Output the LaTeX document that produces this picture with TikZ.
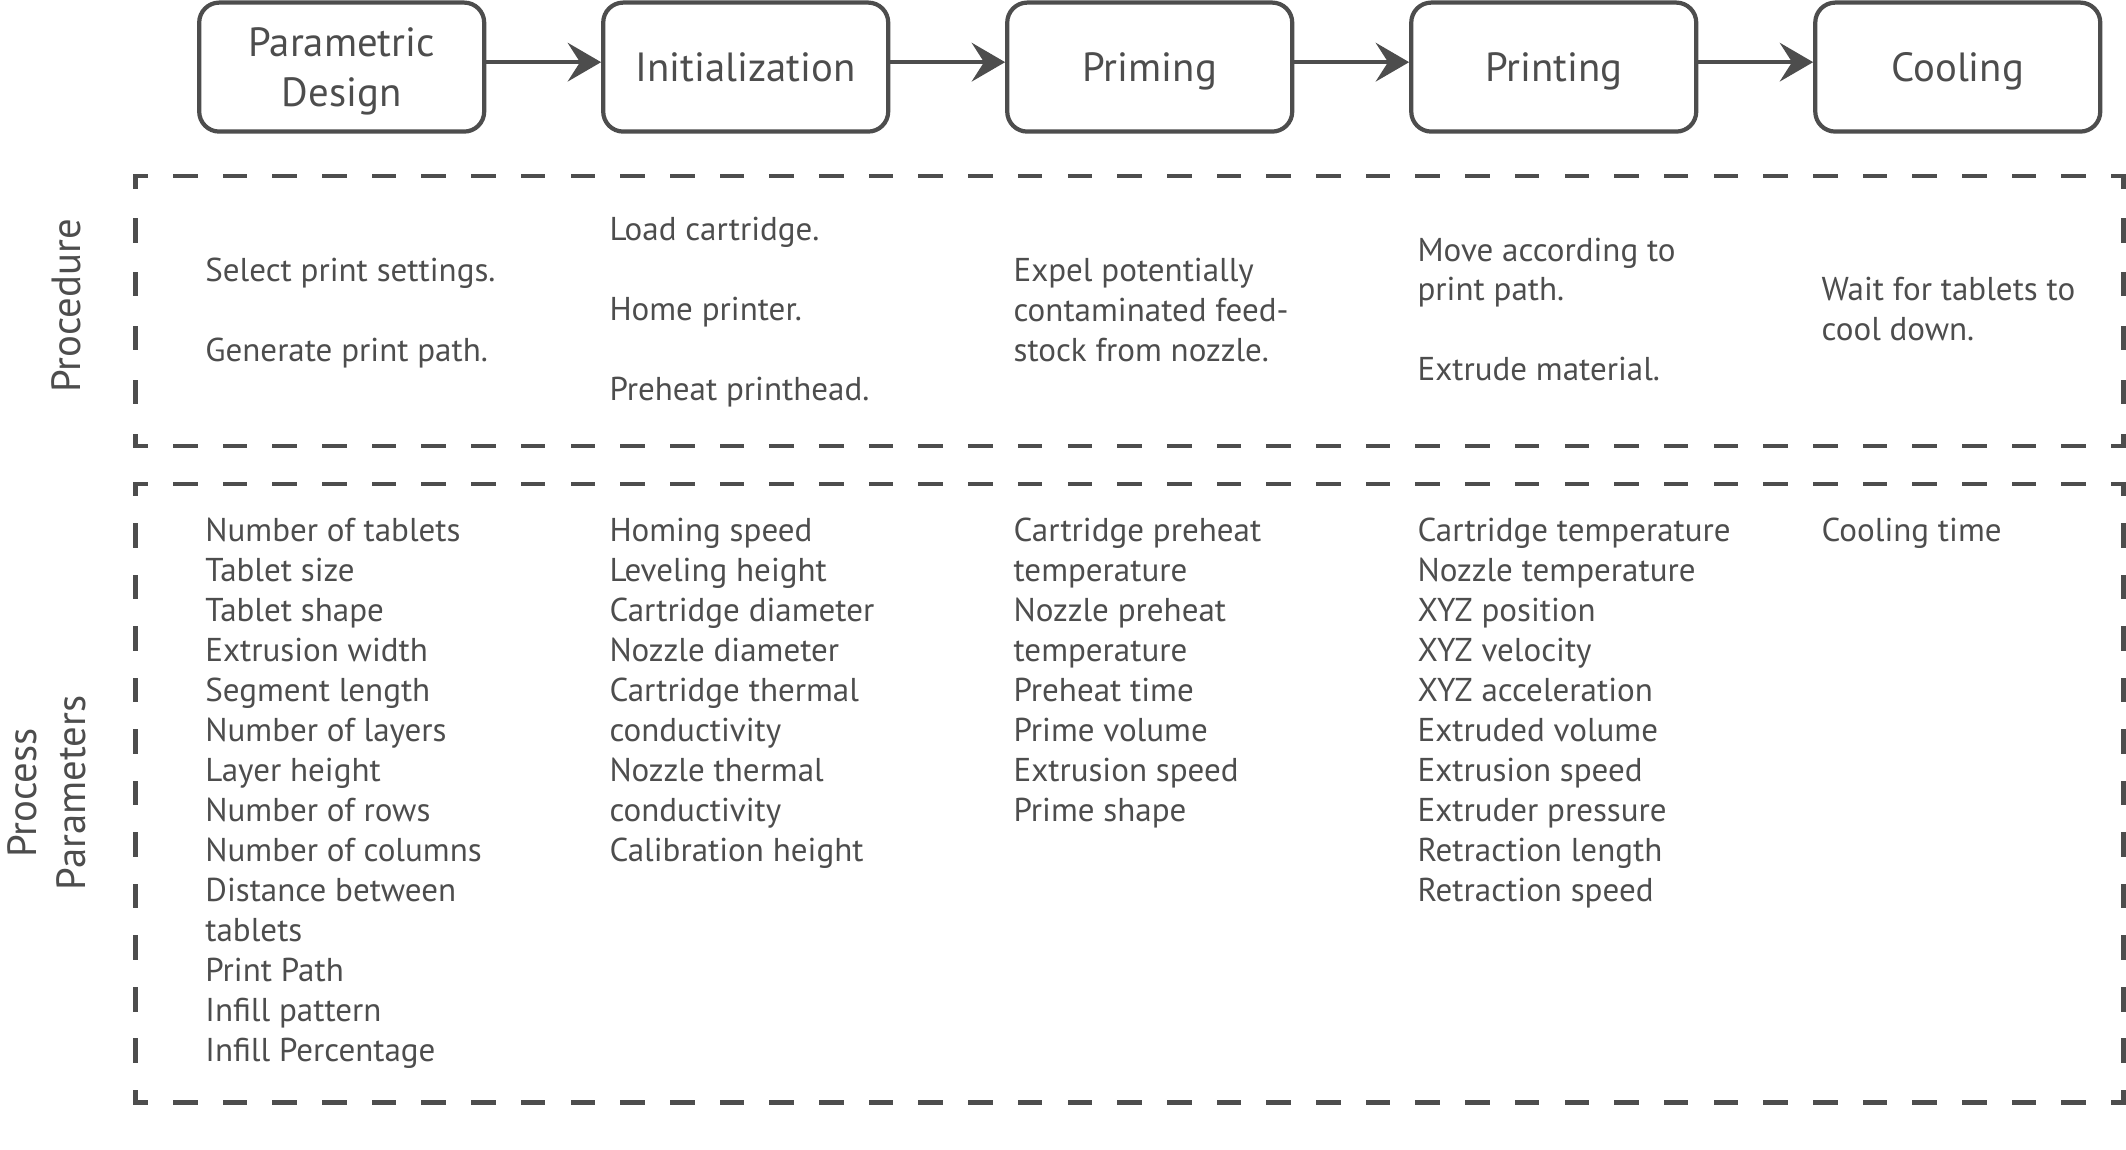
\documentclass[tikz,border=0pt]{standalone}
\usepackage{fontspec}
\setmainfont{PT Sans}
\usetikzlibrary{arrows.meta, positioning}
\definecolor{ink}{RGB}{77,77,77}

\begin{document}
\begin{tikzpicture}[
        node distance=1.148cm,
        font=\fontsize{9.4}{11.38}\selectfont,
        color=ink, text=ink,
        stage/.style={rectangle, draw=ink, line width=1.2pt, rounded corners=5.7pt, minimum width=2.85cm, minimum height=1.29cm, align=center, inner sep=0pt, text depth=0pt, font=\fontsize{11.6}{14.2}\selectfont},
        items/.style={align=left, anchor=base west, inner sep=0pt},
        side/.style={rotate=90, align=center, inner sep=0pt, font=\fontsize{11.6}{14}\selectfont},
        flow/.style={line width=1.2pt, -{Stealth[length=9.5pt, width=11pt, inset=3.5pt]}},
        hline/.style={line width=1.2pt, line cap=rect, dash pattern=on 5.8pt off 8.34pt, dash phase=2.9pt},
        vlineA/.style={line width=1.2pt, line cap=rect, dash pattern=on 5.8pt off 9.55pt, dash phase=2.9pt},
        vlineB/.style={line width=1.2pt, line cap=rect, dash pattern=on 5.8pt off 8.86pt, dash phase=2.9pt}
    ]
        \useasboundingbox (0,0) rectangle (21.26,-11.5);

        % process stages
        \node (design) [stage] at (3.417,-0.671) {Parametric\\Design};
        \node (init) [stage, right=of design] {Initialization};
        \node (prime) [stage, right=of init] {Priming};
        \node (print) [stage, right=of prime] {Printing};
        \node (cool) [stage, right=of print] {Cooling};

        \draw [flow] ([yshift=1.4pt]design.east) -- ([yshift=1.4pt]init.west);
        \draw [flow] ([yshift=1.4pt]init.east) -- ([yshift=1.4pt]prime.west);
        \draw [flow] ([yshift=1.4pt]prime.east) -- ([yshift=1.4pt]print.west);
        \draw [flow] ([yshift=1.4pt]print.east) -- ([yshift=1.4pt]cool.west);

        % dashed frames
        \coordinate (procTL) at (1.356,-1.763);
        \coordinate (procTR) at (21.234,-1.763);
        \coordinate (procBL) at (1.356,-4.46);
        \coordinate (procBR) at (21.234,-4.46);
        \coordinate (parTL) at (1.356,-4.84);
        \coordinate (parTR) at (21.234,-4.84);
        \coordinate (parBL) at (1.356,-11.024);
        \coordinate (parBR) at (21.234,-11.024);

        \draw [hline] (procTL) -- (procTR);
        \draw [hline] (procBL) -- (procBR);
        \draw [vlineA] (procTL) -- (procBL);
        \draw [vlineA] (procTR) -- (procBR);
        \draw [hline] (parTL) -- (parTR);
        \draw [hline] (parBL) -- (parBR);
        \draw [vlineB] (parTL) -- (parBL);
        \draw [vlineB] (parTR) -- (parBR);

        \node (procLabel) [side, anchor=base] at (0.804,-3.06) {Procedure};
        \node (parLabel) [side] at (0.47,-7.93) {Process\\Parameters};

        % procedure (anchored at the last line)
        \node (procDesign) [items] at (2.047,-3.613) {Select print settings.\\[11.38pt]Generate print path.};
        \node (procInit) [items] at (6.088,-4.007) {Load cartridge.\\[11.38pt]Home printer.\\[11.38pt]Preheat printhead.};
        \node (procPrime) [items] at (10.129,-3.613) {Expel potentially\\contaminated feed-\\stock from nozzle.};
        \node (procPrint) [items] at (14.169,-3.81) {Move according to\\print path.\\[11.38pt]Extrude material.};
        \node (procCool) [items] at (18.21,-3.41) {Wait for tablets to\\cool down.};

        % process parameters (anchored at the last line)
        \node (parDesign) [items] at (2.047,-10.615) {Number of tablets\\Tablet size\\Tablet shape\\Extrusion width\\Segment length\\Number of layers\\Layer height\\Number of rows\\Number of columns\\Distance between\\tablets\\Print Path\\Infill pattern\\Infill Percentage};
        \node (parInit) [items] at (6.088,-8.615) {Homing speed\\Leveling height\\Cartridge diameter\\Nozzle diameter\\Cartridge thermal\\conductivity\\Nozzle thermal\\conductivity\\Calibration height};
        \node (parPrime) [items] at (10.129,-8.215) {Cartridge preheat\\temperature\\Nozzle preheat\\temperature\\Preheat time\\Prime volume\\Extrusion speed\\Prime shape};
        \node (parPrint) [items] at (14.169,-9.015) {Cartridge temperature\\Nozzle temperature\\XYZ position\\XYZ velocity\\XYZ acceleration\\Extruded volume\\Extrusion speed\\Extruder pressure\\Retraction length\\Retraction speed};
        \node (parCool) [items] at (18.21,-5.415) {Cooling time};
    \end{tikzpicture}
\end{document}
